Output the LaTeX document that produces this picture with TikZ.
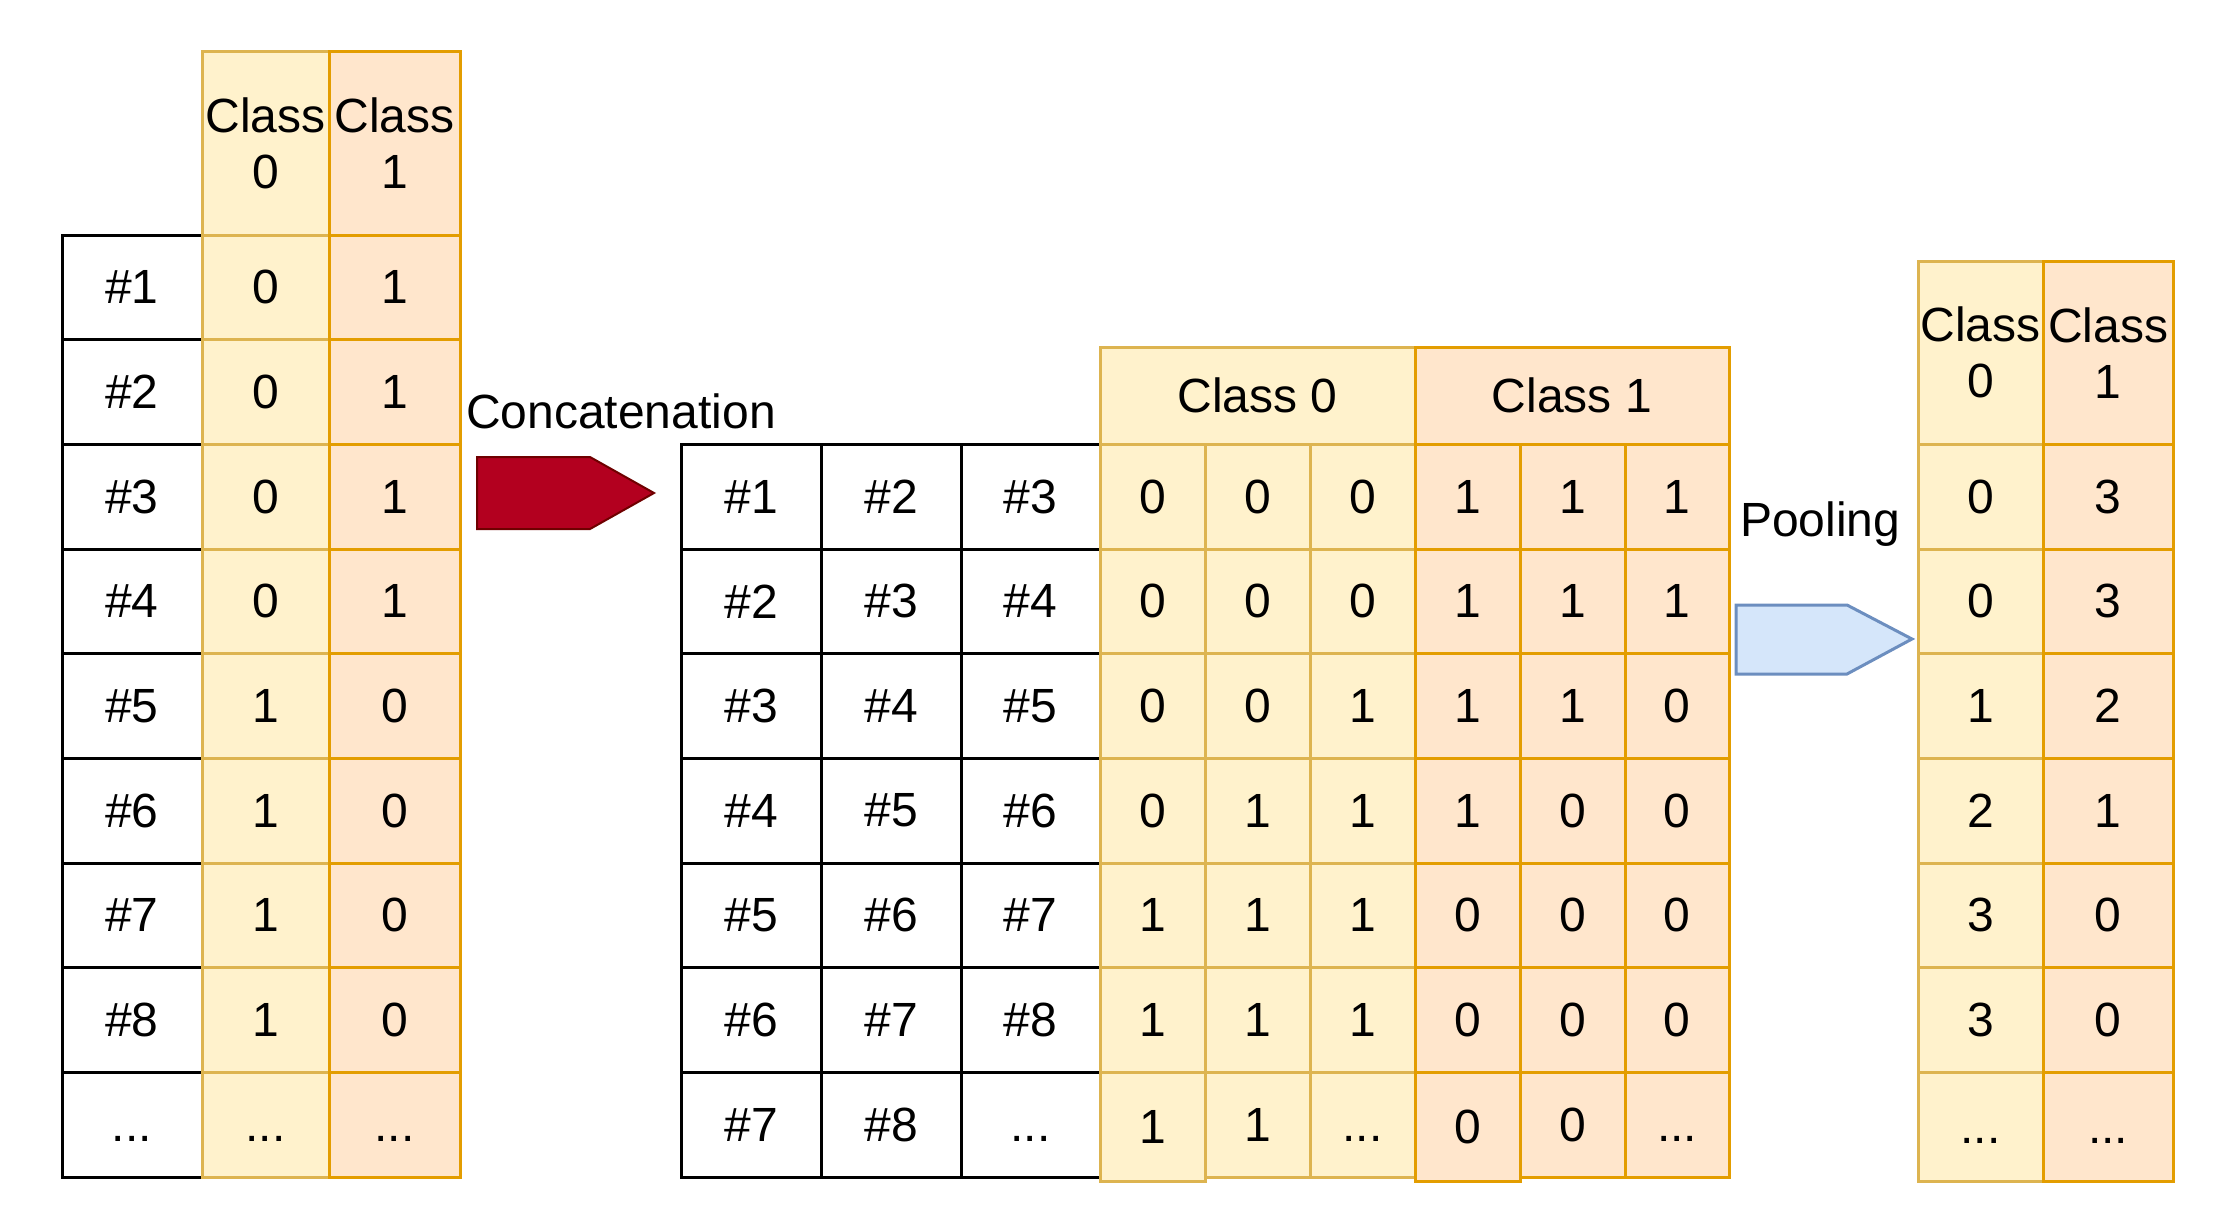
\documentclass[tikz,border=0pt]{standalone}
\usepackage{fontspec}
\setmainfont{Liberation Sans}
\definecolor{yfill}{HTML}{FFF2CC}
\definecolor{ydraw}{HTML}{DDB450}
\definecolor{ofill}{HTML}{FFE6CC}
\definecolor{odraw}{HTML}{E39D00}
\definecolor{rfill}{HTML}{B3001F}
\definecolor{rdraw}{HTML}{6F0000}
\definecolor{bfill}{HTML}{D5E6FA}
\definecolor{bdraw}{HTML}{6C8EBF}
\newcommand\dd{\vphantom{0}...}
\newcommand\mycell[7]{%
  \node[#1, minimum width={(#5-#3)*1pt}, minimum height={(#6-#4)*1pt}] (#2) at ({(#3+#5)/2},{(#4+#6)/2}) {#7};}
\begin{document}
\begin{tikzpicture}[x=1pt,y=-1pt,
  cell/.style={draw, rectangle, inner sep=0pt, outer sep=0pt, line width=3pt, font=\fontsize{48}{56}\selectfont, align=center},
  bcell/.style={cell, draw=black, fill=white},
  ycell/.style={cell, draw=ydraw, fill=yfill},
  ocell/.style={cell, draw=odraw, fill=ofill},
  lbl/.style={font=\fontsize{48}{56}\selectfont, inner sep=0pt, anchor=base west},
  arrowshape/.style={line width=3pt, line join=miter}]
\useasboundingbox (0,0) rectangle (2234,1218);
% ---------- left table ----------
\foreach \k/\t in {0/\#1,1/\#2,2/\#3,3/\#4,4/\#5,5/\#6,6/\#7,7/\#8,8/\dd}{
  \pgfmathsetmacro\ya{235+104.67*\k}\pgfmathsetmacro\yb{235+104.67*(\k+1)}
  \mycell{bcell}{L-b-\k}{62}{\ya}{202}{\yb}{\t}}
\mycell{ycell}{L-y-h}{202}{51}{329}{235}{Class\\0}
\foreach \k/\t in {0/0,1/0,2/0,3/0,4/1,5/1,6/1,7/1,8/\dd}{
  \pgfmathsetmacro\ya{235+104.67*\k}\pgfmathsetmacro\yb{235+104.67*(\k+1)}
  \mycell{ycell}{L-y-\k}{202}{\ya}{329}{\yb}{\t}}
\mycell{ocell}{L-o-h}{329}{51}{460}{235}{Class\\1}
\foreach \k/\t in {0/1,1/1,2/1,3/1,4/0,5/0,6/0,7/0,8/\dd}{
  \pgfmathsetmacro\ya{235+104.67*\k}\pgfmathsetmacro\yb{235+104.67*(\k+1)}
  \mycell{ocell}{L-o-\k}{329}{\ya}{460}{\yb}{\t}}
% ---------- middle table ----------
\foreach \k/\a/\b/\c in {2/\#1/\#2/\#3,3/\#2/\#3/\#4,4/\#3/\#4/\#5,5/\#4/\#5/\#6,6/\#5/\#6/\#7,7/\#6/\#7/\#8,8/\#7/\#8/\dd}{
  \pgfmathsetmacro\ya{235+104.67*\k}\pgfmathsetmacro\yb{235+104.67*(\k+1)}
  \mycell{bcell}{M-b1-\k}{681}{\ya}{821}{\yb}{\a}
  \mycell{bcell}{M-b2-\k}{821}{\ya}{961}{\yb}{\b}
  \mycell{bcell}{M-b3-\k}{961}{\ya}{1100}{\yb}{\c}}
\mycell{ycell}{M-y-h}{1100}{347}{1415}{444.3}{Class 0}
\foreach \k/\a/\b/\c/\e in {2/0/0/0/0,3/0/0/0/0,4/0/0/1/0,5/0/1/1/0,6/1/1/1/0,7/1/1/1/0,8/1/1/\dd/4}{
  \pgfmathsetmacro\ya{235+104.67*\k}\pgfmathsetmacro\yb{235+104.67*(\k+1)}
  \pgfmathsetmacro\yc{\yb+\e}
  \mycell{ycell}{M-y1-\k}{1100}{\ya}{1205}{\yc}{\a}
  \mycell{ycell}{M-y2-\k}{1205}{\ya}{1310}{\yb}{\b}
  \mycell{ycell}{M-y3-\k}{1310}{\ya}{1415}{\yb}{\c}}
\mycell{ocell}{M-o-h}{1415}{347}{1729}{444.3}{Class 1}
\foreach \k/\a/\b/\c/\e in {2/1/1/1/0,3/1/1/1/0,4/1/1/0/0,5/1/0/0/0,6/0/0/0/0,7/0/0/0/0,8/0/0/\dd/4}{
  \pgfmathsetmacro\ya{235+104.67*\k}\pgfmathsetmacro\yb{235+104.67*(\k+1)}
  \pgfmathsetmacro\yc{\yb+\e}
  \mycell{ocell}{M-o2-\k}{1520}{\ya}{1625}{\yb}{\b}
  \mycell{ocell}{M-o3-\k}{1625}{\ya}{1729}{\yb}{\c}
  \mycell{ocell}{M-o1-\k}{1415}{\ya}{1520}{\yc}{\a}}
% ---------- right table ----------
\mycell{ycell}{R-y-h}{1918}{261}{2043}{444.3}{Class\\0}
\foreach \k/\t/\e in {2/0/0,3/0/0,4/1/0,5/2/0,6/3/0,7/3/0,8/\dd/4}{
  \pgfmathsetmacro\ya{235+104.67*\k}\pgfmathsetmacro\yb{235+104.67*(\k+1)+\e}
  \mycell{ycell}{R-y-\k}{1918}{\ya}{2043}{\yb}{\t}}
\mycell{ocell}{R-o-h}{2043}{261}{2173}{444.3}{Class\\1}
\foreach \k/\t/\e in {2/3/0,3/3/0,4/2/0,5/1/0,6/0/0,7/0/0,8/\dd/4}{
  \pgfmathsetmacro\ya{235+104.67*\k}\pgfmathsetmacro\yb{235+104.67*(\k+1)+\e}
  \mycell{ocell}{R-o-\k}{2043}{\ya}{2173}{\yb}{\t}}
% ---------- arrows and labels ----------
\draw[arrowshape, fill=rfill, draw=rdraw, line width=2pt] (477,457) -- (590,457) -- (654,493) -- (590,529) -- (477,529) -- cycle;
\draw[arrowshape, fill=bfill, draw=bdraw] (1736,605) -- (1847,605) -- (1912,639) -- (1847,674) -- (1736,674) -- cycle;
\node[lbl] (concat) at (466,428) {Concatenation};
\node[lbl] (pool) at (1740,536) {Pooling};
\end{tikzpicture}
\end{document}
